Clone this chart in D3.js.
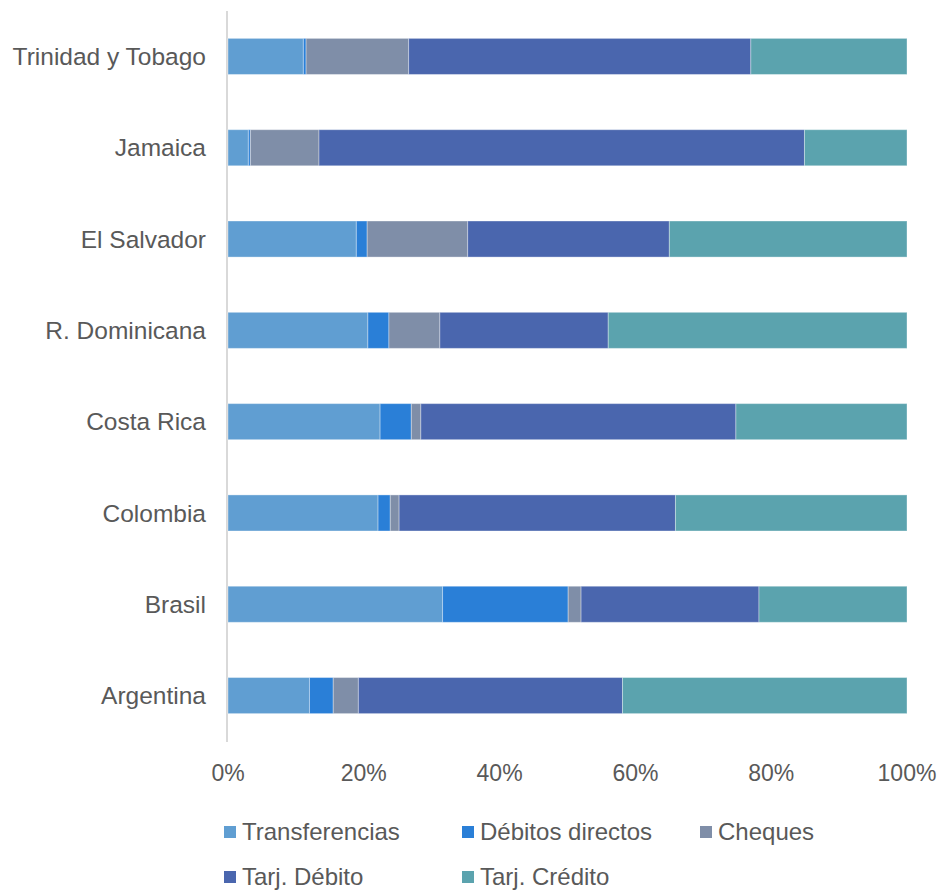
<!DOCTYPE html>
<html><head><meta charset="utf-8">
<script src="https://cdn.jsdelivr.net/npm/d3@7"></script>
<style>body{margin:0;background:#fff}svg{display:block}</style>
</head><body><svg id="c" width="938" height="891"></svg>
<script>
const categories = ["Trinidad y Tobago","Jamaica","El Salvador","R. Dominicana","Costa Rica","Colombia","Brasil","Argentina"];
const seriesNames = ["Transferencias","Débitos directos","Cheques","Tarj. Débito","Tarj. Crédito"];
const transferencias = [11.1, 3.0, 18.9, 20.6, 22.4, 22.1, 31.6, 12.0];
const debitosDirectos = [0.4, 0.3, 1.6, 3.1, 4.6, 1.8, 18.5, 3.5];
const cheques = [15.1, 10.1, 14.8, 7.5, 1.4, 1.3, 1.9, 3.7];
const tarjDebito = [50.4, 71.5, 29.7, 24.8, 46.4, 40.7, 26.2, 38.9];
const tarjCredito = [23.0, 15.1, 35.0, 44.0, 25.2, 34.1, 21.8, 41.9];
const colors = ["#609ed2", "#2a7fd7", "#7f8ea8", "#4a66ae", "#5ba3ae"];
const xTicks = [0, 0.2, 0.4, 0.6, 0.8, 1.0];

const svg = d3.select("#c");
const font = "'Liberation Sans', Arial, sans-serif";
const textColor = "#595959";

const rows = categories.map((c, i) => ({
  cat: c,
  vals: [transferencias[i], debitosDirectos[i], cheques[i], tarjDebito[i], tarjCredito[i]]
}));
rows.forEach(r => { const t = d3.sum(r.vals); r.vals = r.vals.map(v => v / t); });

const x = d3.scaleLinear().domain([0, 1]).range([228, 907]);
const y = d3.scaleBand().domain(categories).range([11, 741]).paddingInner(0.605).paddingOuter(0.3);

// axis line
svg.append("line").attr("x1", 227).attr("x2", 227).attr("y1", 11).attr("y2", 742)
  .attr("stroke", "#d9d9d9").attr("stroke-width", 2);

rows.forEach(r => {
  let acc = 0;
  r.vals.forEach((v, k) => {
    svg.append("rect")
      .attr("x", x(acc)).attr("width", x(acc + v) - x(acc))
      .attr("y", y(r.cat)).attr("height", y.bandwidth())
      .attr("fill", colors[k])
      .attr("stroke", "#ffffff").attr("stroke-opacity", 0.35).attr("stroke-width", 1);
    acc += v;
  });
});

// category labels
svg.append("g").selectAll("text").data(categories).join("text")
  .attr("x", 206).attr("y", d => y(d) + y.bandwidth() / 2)
  .attr("dy", "0.35em").attr("text-anchor", "end")
  .attr("font-family", font).attr("font-size", 24.5).attr("fill", textColor)
  .text(d => d);

// x tick labels
svg.append("g").selectAll("text").data(xTicks).join("text")
  .attr("x", d => x(d)).attr("y", 773).attr("dy", "0.35em").attr("text-anchor", "middle")
  .attr("font-family", font).attr("font-size", 23).attr("fill", textColor)
  .text(d => d3.format(".0%")(d));

// legend
const legPos = [[224, 832], [462, 832], [700, 832], [224, 877], [462, 877]];
seriesNames.forEach((n, k) => {
  const [lx, ly] = legPos[k];
  svg.append("rect").attr("x", lx).attr("y", ly - 6).attr("width", 12).attr("height", 12).attr("fill", colors[k]);
  svg.append("text").attr("x", lx + 18).attr("y", ly).attr("dy", "0.35em")
    .attr("font-family", font).attr("font-size", 24).attr("fill", textColor).text(n);
});
</script></body></html>
